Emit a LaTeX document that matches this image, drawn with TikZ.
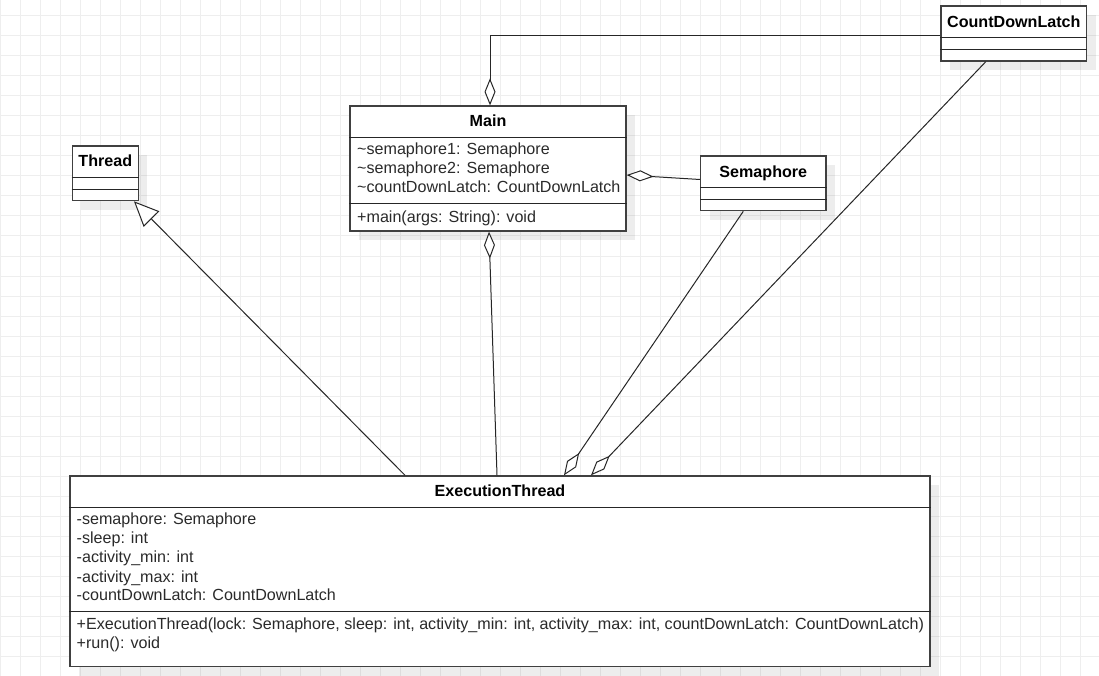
\documentclass[tikz,border=0pt]{standalone}
\usepackage{fontspec}
\setmainfont{Liberation Sans}
\usetikzlibrary{arrows.meta,shadows}

\definecolor{gridc}{HTML}{EEEEEE}
\definecolor{boxc}{HTML}{404040}
\definecolor{textc}{HTML}{2A2A2A}

\begin{document}
\begin{tikzpicture}[x=1pt,y=-1pt,
  classbox/.style={draw=boxc, line width=1.3pt, fill=white, inner sep=0pt,
    drop shadow={shadow xshift=9pt, shadow yshift=-9pt, fill=black, opacity=0.07}},
  sepline/.style={draw=black!85, line width=1pt},
  title/.style={font=\fontsize{16.1}{19}\selectfont\bfseries, inner sep=0pt, anchor=mid},
  member/.style={font=\fontsize{16.1}{19}\selectfont, text=textc, inner sep=0pt, anchor=mid west},
  link/.style={draw=black!85, line width=1pt},
  aggstart/.style={link, {Diamond[open, fill=white, length=27pt, width=11pt]}-},
  aggend/.style={link, -{Diamond[open, fill=white, length=27pt, width=11pt]}},
  inherit/.style={link, -{Triangle[open, fill=white, length=25pt, width=22pt]}}
]
% canvas and background grid
\useasboundingbox (0,0) rectangle (1099,676);
\fill[white] (0,0) rectangle (1099,676);
\foreach \i in {0,...,54} \draw[gridc, line width=1pt] ({\i*20+0.5},0) -- ({\i*20+0.5},676);
\foreach \j in {0,...,33} \draw[gridc, line width=1pt] (0,{\j*20+16}) -- (1099,{\j*20+16});

% Thread
\node[classbox, minimum width=66pt, minimum height=54.7pt] (thread) at (105.3,173.3) {};
\draw[sepline] (thread.west |- 0,177.3) -- (thread.east |- 0,177.3);
\draw[sepline] (thread.west |- 0,189.3) -- (thread.east |- 0,189.3);
\node[title] (threadT) at (105.3,164.3) {Thread};

% Main
\node[classbox, minimum width=276pt, minimum height=125pt] (main) at (488,168.5) {};
\draw[sepline] (main.west |- 0,137.3) -- (main.east |- 0,137.3);
\draw[sepline] (main.west |- 0,203.3) -- (main.east |- 0,203.3);
\node[title] (mainT) at (488,124.3) {Main};
\node[member] (mainA1) at (357,152) {\textasciitilde semaphore1: Semaphore};
\node[member] (mainA2) at (357,170.8) {\textasciitilde semaphore2: Semaphore};
\node[member] (mainA3) at (357,189.6) {\textasciitilde countDownLatch: CountDownLatch};
\node[member] (mainM1) at (357,219.7) {+main(args: String): void};

% Semaphore
\node[classbox, minimum width=125.3pt, minimum height=54.7pt] (sem) at (763.3,183.3) {};
\draw[sepline] (sem.west |- 0,187.3) -- (sem.east |- 0,187.3);
\draw[sepline] (sem.west |- 0,199.3) -- (sem.east |- 0,199.3);
\node[title] (semT) at (763.3,174.5) {Semaphore};

% CountDownLatch
\node[classbox, minimum width=145.7pt, minimum height=55pt] (cdl) at (1013.8,33.5) {};
\draw[sepline] (cdl.west |- 0,37.7) -- (cdl.east |- 0,37.7);
\draw[sepline] (cdl.west |- 0,50) -- (cdl.east |- 0,50);
\node[title] (cdlT) at (1013.8,24.5) {CountDownLatch};

% ExecutionThread
\node[classbox, minimum width=860pt, minimum height=190.7pt] (exec) at (500,571.3) {};
\draw[sepline] (exec.west |- 0,507.3) -- (exec.east |- 0,507.3);
\draw[sepline] (exec.west |- 0,611.7) -- (exec.east |- 0,611.7);
\node[title] (execT) at (500,494.3) {ExecutionThread};
\node[member] (execA1) at (76.5,522.3) {-semaphore: Semaphore};
\node[member] (execA2) at (76.5,541.3) {-sleep: int};
\node[member] (execA3) at (76.5,560.3) {-activity\_min: int};
\node[member] (execA4) at (76.5,579.5) {-activity\_max: int};
\node[member] (execA5) at (76.5,598.3) {-countDownLatch: CountDownLatch};
\node[member] (execM1) at (76.5,627) {+ExecutionThread(lock: Semaphore, sleep: int, activity\_min: int, activity\_max: int, countDownLatch: CountDownLatch)};
\node[member] (execM2) at (76.5,645.7) {+run(): void};

% relations
\draw[aggstart] ([xshift=2pt]main.north) |- ([yshift=-2pt]cdl.west);
\draw[aggstart] ([yshift=-6.5pt]main.east) -- ([yshift=3.8pt]sem.west);
\draw[aggstart] ([xshift=1pt]main.south) -- ([xshift=-3pt]exec.north);
\draw[inherit] ([xshift=-95pt]exec.north) -- ([xshift=-5pt]thread.south east);
\draw[aggend] ([xshift=-20pt]sem.south) -- ([xshift=64pt]exec.north);
\draw[aggend] ([xshift=-28pt]cdl.south) -- ([xshift=91pt]exec.north);
\end{tikzpicture}
\end{document}
